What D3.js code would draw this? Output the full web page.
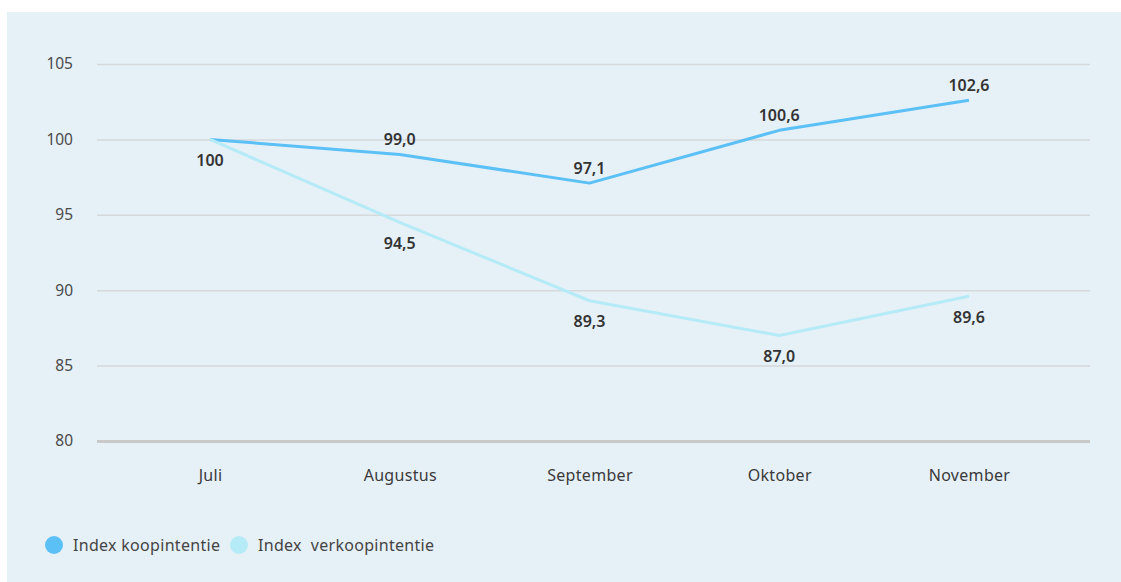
<!DOCTYPE html>
<html>
<head>
<meta charset="utf-8">
<script src="https://cdn.jsdelivr.net/npm/d3@7"></script>
<style>
  body { margin: 0; background: #fff; font-family: "Noto Sans", Lato, sans-serif; }
  .tick text { font-family: "Noto Sans", Lato, sans-serif; }
</style>
</head>
<body>
<svg id="chart"></svg>
<script>
// 1) Data
const months = ["Juli", "Augustus", "September", "Oktober", "November"]
const koopIndex = [100, 99.0, 97.1, 100.6, 102.6]
const verkoopIndex = [100, 94.5, 89.3, 87.0, 89.6]
const yTicks = [80, 85, 90, 95, 100, 105]
const seriesNames = ["Index koopintentie", "Index  verkoopintentie"]

const series = [
  { name: seriesNames[0], values: koopIndex, color: "#5bc0f6", labelDy: -15, skipFirst: true },
  { name: seriesNames[1], values: verkoopIndex, color: "#b4ebf6", labelDy: 21, skipFirst: false },
]

// 2) Dimensions
const dimensions = {
  width: 1121,
  height: 582,
  gridLeft: 97,
  gridRight: 1090,
  firstPoint: 210,
  lastPoint: 969,
  yTop: 64,
  yBottom: 441,
}

const wrapper = d3
  .select("#chart")
  .attr("width", dimensions.width)
  .attr("height", dimensions.height)

wrapper
  .append("rect")
  .attr("x", 7)
  .attr("y", 12)
  .attr("width", dimensions.width - 7)
  .attr("height", dimensions.height - 12)
  .attr("fill", "#e6f0f7")

// 3) Scales
const xScale = d3
  .scalePoint()
  .domain(months)
  .range([dimensions.firstPoint, dimensions.lastPoint])

const yScale = d3
  .scaleLinear()
  .domain([80, 105])
  .range([dimensions.yBottom, dimensions.yTop])

// 4) Grid / y axis
const yAxis = wrapper
  .append("g")
  .attr("transform", `translate(${dimensions.gridLeft},0)`)
  .call(
    d3
      .axisLeft(yScale)
      .tickValues(yTicks)
      .tickSize(-(dimensions.gridRight - dimensions.gridLeft))
      .tickPadding(24)
      .tickFormat(d3.format("d"))
  )
yAxis.select(".domain").remove()
yAxis
  .selectAll(".tick line")
  .attr("stroke", (d) => (d === 80 ? "#c9c9c9" : "#d6d9dc"))
  .attr("stroke-width", (d) => (d === 80 ? 3 : 1.5))
yAxis
  .selectAll(".tick text")
  .attr("fill", "#4a4a4a")
  .attr("font-size", 15.5)

// x axis labels
const xAxis = wrapper
  .append("g")
  .attr("transform", `translate(0,${dimensions.yBottom})`)
  .call(d3.axisBottom(xScale).tickSize(0).tickPadding(29))
xAxis.select(".domain").remove()
xAxis
  .selectAll(".tick text")
  .attr("fill", "#3a3a3a")
  .attr("font-size", 16)
  .attr("letter-spacing", 0.3)

// 5) Lines
const lineGenerator = d3
  .line()
  .x((d, i) => xScale(months[i]))
  .y((d) => yScale(d))

wrapper
  .selectAll(".series-line")
  .data(series)
  .join("path")
  .attr("class", "series-line")
  .attr("d", (s) => lineGenerator(s.values))
  .attr("fill", "none")
  .attr("stroke", (s) => s.color)
  .attr("stroke-width", 3)
  .attr("stroke-linejoin", "round")

// data labels
const formatValue = (v) =>
  v === 100 ? "100" : d3.format(".1f")(v).replace(".", ",")

series.forEach((s) => {
  wrapper
    .append("g")
    .selectAll("text")
    .data(s.values.map((v, i) => ({ v, i })).filter((d) => !(s.skipFirst && d.i === 0)))
    .join("text")
    .attr("x", (d) => xScale(months[d.i]))
    .attr("y", (d) => yScale(d.v) + s.labelDy)
    .attr("dy", "0.35em")
    .attr("text-anchor", "middle")
    .attr("font-size", 16)
    .attr("font-weight", 600)
    .attr("fill", "#333")
    .text((d) => formatValue(d.v))
})

// 6) Legend
const legendPositions = [54, 239]
const legend = wrapper
  .append("g")
  .selectAll("g")
  .data(series)
  .join("g")
  .attr("transform", (s, i) => `translate(${legendPositions[i]},545)`)

legend.append("circle").attr("r", 9).attr("fill", (s) => s.color)
legend
  .append("text")
  .attr("x", 19)
  .attr("dy", "0.35em")
  .attr("font-size", 16)
  .attr("letter-spacing", 0.3)
  .attr("fill", "#444")
  .style("white-space", "pre")
  .text((s) => s.name)
</script>
</body>
</html>
